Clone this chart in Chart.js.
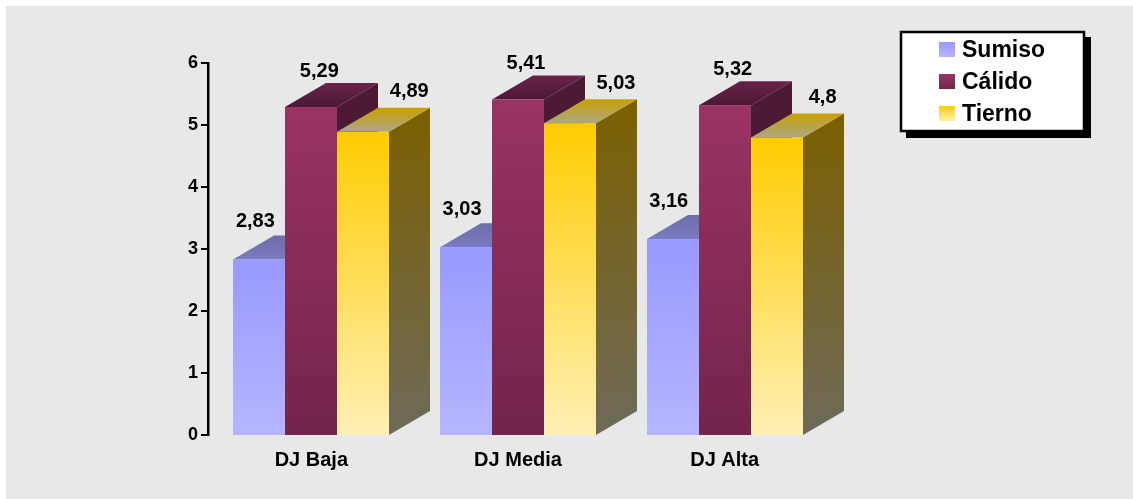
<!DOCTYPE html>
<html>
<head>
<meta charset="utf-8">
<script src="https://cdn.jsdelivr.net/npm/chart.js@4/dist/chart.umd.min.js"></script>
<style>
  html, body { margin: 0; padding: 0; background: #fff; }
  canvas { display: block; }
</style>
</head>
<body>
<canvas id="chart" width="1133" height="499"></canvas>
<script>
// Data
const categories = ['DJ Baja', 'DJ Media', 'DJ Alta'];
const seriesNames = ['Sumiso', 'Cálido', 'Tierno'];
const sumiso = [2.83, 3.03, 3.16];
const calido = [5.29, 5.41, 5.32];
const tierno = [4.89, 5.03, 4.8];
const yTicks = [0, 1, 2, 3, 4, 5, 6];

// Styles for each series: front gradient, top face gradient (back->front), side gradient (top->bottom)
const styles = [
  { front: ['#9999ff', '#b5b5ff'], top: ['#6d6daa', '#7b7bc0'], side: ['#5c5c99', '#6f6fb0'], legend: ['#9999ff', '#b5b5ff'], labelDx: -4, labelDy: 14 },
  { front: ['#9a3363', '#73244b'], top: ['#6a2249', '#4b1934'], side: ['#4c1a35', '#4a1933'], legend: ['#993366', '#74264c'], labelDx: 8, labelDy: 12 },
  { front: ['#ffcc00', '#fff0b5'], top: ['#c9a000', '#ada685'], side: ['#7b6000', '#6e6a5a'], legend: ['#ffcc00', '#fff0b5'], labelDx: 46, labelDy: 16 }
];

const DX = 41, DY = 24;
const FONT = "'Liberation Sans', Arial, sans-serif";

function fmt(v) {
  return String(v).replace('.', ',');
}

function vGrad(ctx, y0, y1, c0, c1) {
  const g = ctx.createLinearGradient(0, y0, 0, y1);
  g.addColorStop(0, c0);
  g.addColorStop(1, c1);
  return g;
}

function poly(ctx, pts, fill) {
  ctx.beginPath();
  ctx.moveTo(pts[0][0], pts[0][1]);
  for (let k = 1; k < pts.length; k++) ctx.lineTo(pts[k][0], pts[k][1]);
  ctx.closePath();
  ctx.fillStyle = fill;
  ctx.fill();
}

const backgroundPlugin = {
  id: 'background',
  beforeDraw(chart) {
    const ctx = chart.ctx;
    ctx.save();
    ctx.fillStyle = '#ffffff';
    ctx.fillRect(0, 0, chart.width, chart.height);
    ctx.fillStyle = '#e8e8e8';
    ctx.fillRect(6, 6, chart.width - 6, chart.height - 6);
    ctx.restore();
  }
};

// Draws the 3D bars (side, top, front) using the library's bar elements
const bars3dPlugin = {
  id: 'bars3d',
  afterDatasetsDraw(chart) {
    const ctx = chart.ctx;
    ctx.save();
    for (let i = 0; i < categories.length; i++) {
      for (let j = 0; j < seriesNames.length; j++) {
        const el = chart.getDatasetMeta(j).data[i];
        const { x, y, base, width } = el.getProps(['x', 'y', 'base', 'width'], true);
        const l = Math.round(x - width / 2), r = Math.round(x + width / 2);
        const b = base + 1;
        const st = styles[j];
        // side
        poly(ctx, [[r, y], [r + DX, y - DY], [r + DX, b - DY], [r, b]],
          vGrad(ctx, y - DY, b, st.side[0], st.side[1]));
        // top
        poly(ctx, [[l, y], [l + DX, y - DY], [r + DX, y - DY], [r, y]],
          vGrad(ctx, y - DY, y, st.top[0], st.top[1]));
        // front
        ctx.fillStyle = vGrad(ctx, y, b, st.front[0], st.front[1]);
        ctx.fillRect(l, y, r - l, b - y);
      }
    }
    // value labels
    ctx.fillStyle = '#000';
    ctx.font = 'bold 20px ' + FONT;
    ctx.textAlign = 'center';
    ctx.textBaseline = 'middle';
    for (let j = 0; j < seriesNames.length; j++) {
      const meta = chart.getDatasetMeta(j);
      meta.data.forEach((el, i) => {
        const { x, y } = el.getProps(['x', 'y'], true);
        ctx.fillText(fmt(chart.data.datasets[j].data[i]), x + styles[j].labelDx, y - DY - styles[j].labelDy);
      });
    }
    ctx.restore();
  },
  afterDraw(chart) {
    // legend box with shadow
    const ctx = chart.ctx;
    ctx.save();
    const bx = 900, by = 31, bw = 185, bh = 101;
    ctx.fillStyle = '#000';
    ctx.fillRect(bx + 6, by + 6, bw, bh);
    ctx.fillStyle = '#fff';
    ctx.fillRect(bx, by, bw, bh);
    ctx.lineWidth = 2.5;
    ctx.strokeStyle = '#000';
    ctx.strokeRect(bx + 1, by + 1, bw - 2, bh - 2);
    ctx.font = 'bold 23px ' + FONT;
    ctx.textAlign = 'left';
    ctx.textBaseline = 'middle';
    seriesNames.forEach((name, j) => {
      const cy = 49.5 + j * 32;
      ctx.fillStyle = vGrad(ctx, cy - 7.5, cy + 7.5, styles[j].legend[0], styles[j].legend[1]);
      ctx.fillRect(939, cy - 7.5, 16, 15);
      ctx.fillStyle = '#000';
      ctx.fillText(name, 962, cy + 1);
    });
    ctx.restore();
  }
};

const ctx = document.getElementById('chart').getContext('2d');
new Chart(ctx, {
  type: 'bar',
  data: {
    labels: categories,
    datasets: [
      { label: seriesNames[0], data: sumiso, backgroundColor: 'rgba(0,0,0,0)' },
      { label: seriesNames[1], data: calido, backgroundColor: 'rgba(0,0,0,0)' },
      { label: seriesNames[2], data: tierno, backgroundColor: 'rgba(0,0,0,0)' }
    ]
  },
  options: {
    responsive: false,
    animation: false,
    devicePixelRatio: 1,
    layout: { padding: { left: 0, right: 305, top: 63, bottom: 0 } },
    datasets: { bar: { categoryPercentage: 0.754, barPercentage: 1 } },
    plugins: {
      legend: { display: false },
      tooltip: { enabled: false }
    },
    scales: {
      x: {
        grid: { display: false, drawTicks: false },
        border: { display: false },
        ticks: { color: '#000', font: { family: FONT, size: 20, weight: 'bold' }, padding: 13 },
        afterFit: s => { s.height = 64; }
      },
      y: {
        min: 0,
        max: 6,
        afterBuildTicks: s => { s.ticks = yTicks.map(v => ({ value: v })); },
        grid: { drawOnChartArea: false, drawTicks: true, tickLength: 7, color: '#000', lineWidth: 2 },
        border: { display: true, color: '#000', width: 2.5 },
        ticks: { color: '#000', font: { family: FONT, size: 18, weight: 'bold' }, padding: 3 },
        afterFit: s => { s.width = 208; }
      }
    }
  },
  plugins: [backgroundPlugin, bars3dPlugin]
});
</script>
</body>
</html>
